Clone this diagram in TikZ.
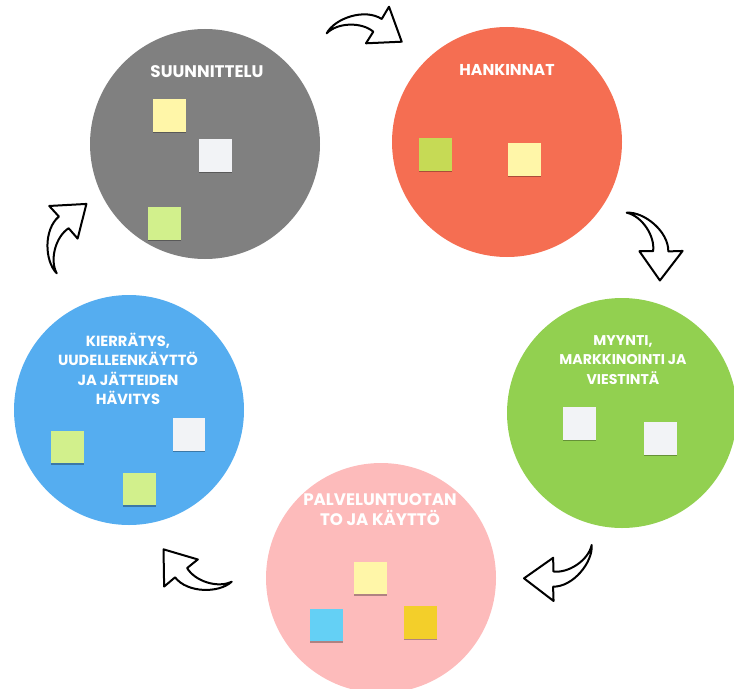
\documentclass[tikz,border=0pt]{standalone}
\usepackage{fontspec}
\setsansfont{Poppins}
\usetikzlibrary{shadows}

\definecolor{graycircle}{RGB}{128,128,128}
\definecolor{redcircle}{RGB}{245,110,82}
\definecolor{greencircle}{RGB}{146,208,80}
\definecolor{pinkcircle}{RGB}{253,187,187}
\definecolor{bluecircle}{RGB}{85,173,240}
\definecolor{noteyellow}{RGB}{255,246,168}
\definecolor{notewhite}{RGB}{242,243,246}
\definecolor{notegreen}{RGB}{210,240,140}
\definecolor{notelime}{RGB}{198,218,85}
\definecolor{noteblue}{RGB}{100,208,245}
\definecolor{notegold}{RGB}{243,207,42}

\begin{document}
\begin{tikzpicture}[x=0.75pt,y=0.75pt,yscale=-1,xscale=1,
  phase/.style={circle, minimum size=172.5pt, inner sep=0pt},
  phasetext/.style={text=white, font=\sffamily\bfseries\fontsize{#1}{14.5}\selectfont, align=center, inner sep=0.75pt},
  note/.style={minimum size=24.5pt, inner sep=0pt, drop shadow={shadow xshift=0pt, shadow yshift=-1.2pt, opacity=0.3, fill=black}},
  arrowline/.style={draw=black, fill=white, line width=1.5pt, line join=round},
  cyclearrow/.pic={
    \draw[arrowline] (0,0) .. controls (8.3,-15.3) and (38.3,-25.3) .. (55,-14.3) -- (62.3,-26.6) -- (75,8.4) -- (39.3,10) -- (46.6,-1.6) .. controls (35.3,-11.3) and (11.3,-11.3) .. (0,0) -- cycle;
  }]
\useasboundingbox (0,0) rectangle (734,688);

% Circles
\node[phase, fill=graycircle] (suunnittelu) at (205,144) {};
\node[phase, fill=redcircle] (hankinnat) at (507,142) {};
\node[phase, fill=greencircle] (myynti) at (622,413) {};
\node[phase, fill=pinkcircle] (palvelu) at (381,578) {};
\node[phase, fill=bluecircle] (kierratys) at (129,410) {};

% Text Node
\node[phasetext=12.6] (suunnittelu-t) at (207,72) {SUUNNITTELU};
\node[phasetext=11.8] (hankinnat-t) at (507,70) {HANKINNAT};
\node[phasetext=10.6] (myynti-t) at (623,360) {MYYNTI,\\MARKKINOINTI JA\\VIESTINTÄ};
\node[phasetext=12.5] (palvelu-t) at (380,509.5) {PALVELUNTUOTAN\\TO JA KÄYTTÖ};
\node[phasetext=11] (kierratys-t) at (128,369) {KIERRÄTYS,\\UUDELLEENKÄYTTÖ\\JA JÄTTEIDEN\\HÄVITYS};

% Notes
\node[note, fill=noteyellow] (s1) at (169.5,115.5) {};
\node[note, fill=notewhite] (s2) at (215.5,155.5) {};
\node[note, fill=notegreen] (s3) at (164.5,223.5) {};
\node[note, fill=notelime] (h1) at (435.5,154.5) {};
\node[note, fill=noteyellow] (h2) at (524.5,159.5) {};
\node[note, fill=notewhite] (m1) at (579.5,423.5) {};
\node[note, fill=notewhite] (m2) at (660.5,438.5) {};
\node[note, fill=noteyellow] (p1) at (370.5,578) {};
\node[note, fill=noteblue] (p2) at (326.5,625) {};
\node[note, fill=notegold] (p3) at (420.5,622.5) {};
\node[note, fill=notegreen] (k1) at (67.5,447) {};
\node[note, fill=notewhite] (k2) at (189,434.5) {};
\node[note, fill=notegreen] (k3) at (139.5,489) {};

% Arrows
\path (326.7,33.3) pic[transform shape] {cyclearrow};
\path (626.7,212.7) pic[transform shape, rotate=57.5] {cyclearrow};
\path (591.7,545) pic[transform shape, rotate=147.4] {cyclearrow};
\path (231.7,581.7) pic[transform shape, rotate=199] {cyclearrow};
\path (56.7,273.3) pic[transform shape, rotate=-73.2] {cyclearrow};

\end{tikzpicture}
\end{document}
